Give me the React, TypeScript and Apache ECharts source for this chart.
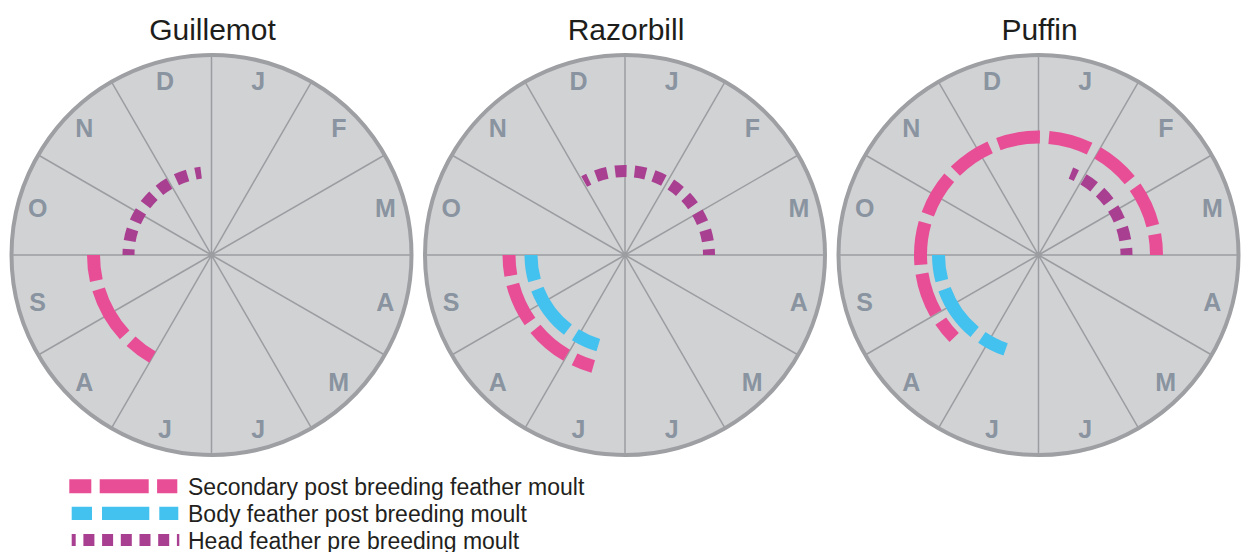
import React, { useEffect, useRef } from 'react';
import * as echarts from 'echarts';

// ---- data -------------------------------------------------------------
const SPECIES = ['Guillemot', 'Razorbill', 'Puffin'];
const MONTHS = ['J', 'F', 'M', 'A', 'M', 'J', 'J', 'A', 'S', 'O', 'N', 'D'];
// moult periods: [ring radius (0-100), start month, end month]; 0 = 1 Jan, clockwise
const SECONDARY_MOULT: (number[] | null)[] = [[59, 7.0, 9.0], [58, 6.53, 9.0], [59, 7.52, 3.0]];
const BODY_MOULT: (number[] | null)[] = [null, [47, 6.55, 9.0], [50, 6.64, 9.0]];
const HEAD_MOULT: (number[] | null)[] = [[41.5, 9.0, 11.76], [42, 11.03, 3.0], [44, 0.72, 3.0]];
const LEGEND_LABELS = [
  'Secondary post breeding feather moult',
  'Body feather post breeding moult',
  'Head feather pre breeding moult',
];
const LABEL_RING = [90];

// ---- styles -----------------------------------------------------------
const PINK = '#e84e96';
const BLUE = '#43c1ef';
const PURPLE = '#a83f91';
const CENTERS_X = [211.5, 625, 1038.5];
const CENTER_Y = 255;
const RADIUS = 200;
const FONT = '"Liberation Sans", Arial, Helvetica, sans-serif';

function makeArc(color: string, width: number, dash: number, gap: number) {
  return (params: any, api: any) => {
    const rv = api.value(0);
    const s = api.value(1);
    const e = api.value(2);
    const p0 = api.coord([rv, s]);
    const p1 = api.coord([rv, e]);
    const cs = params.coordSys;
    const r = p0[2];
    const a0 = -p0[3];
    let sweep = -p1[3] - a0;
    while (sweep <= 1e-6) sweep += Math.PI * 2;
    while (sweep > Math.PI * 2 + 1e-6) sweep -= Math.PI * 2;
    const L = r * sweep;
    const n = Math.max(1, Math.round(L / (dash + gap)));
    const d = L / n - gap;
    return {
      type: 'arc',
      shape: { cx: cs.cx, cy: cs.cy, r, startAngle: a0, endAngle: a0 + sweep, clockwise: true },
      style: {
        fill: 'none',
        stroke: color,
        lineWidth: width,
        lineDash: [d, gap],
        lineDashOffset: d / 2,
        lineCap: 'butt',
      },
    };
  };
}

export default function App() {
  const ref = useRef<HTMLDivElement>(null);

  useEffect(() => {
    if (!ref.current) return;
    const chart = echarts.init(ref.current, undefined, { renderer: 'svg' });

    const polar = CENTERS_X.map((x) => ({ center: [x, CENTER_Y], radius: RADIUS }));
    const angleAxis = CENTERS_X.map((_, i) => ({
      polarIndex: i,
      type: 'value',
      min: 0,
      max: 12,
      interval: 1,
      startAngle: 90,
      clockwise: true,
      z: 2,
      axisLine: { show: true, lineStyle: { color: '#9e9fa3', width: 4 } },
      axisTick: { show: false },
      axisLabel: { show: false },
      splitLine: { show: true, lineStyle: { color: '#9c9da1', width: 1.5 } },
      splitArea: { show: false },
    }));
    const radiusAxis = CENTERS_X.map((_, i) => ({
      polarIndex: i,
      type: 'value',
      min: 0,
      max: 100,
      interval: 100,
      z: 1,
      axisLine: { show: false },
      axisTick: { show: false },
      axisLabel: { show: false },
      splitLine: { show: false },
      splitArea: { show: true, areaStyle: { color: ['#d1d2d4'] } },
    }));

    const series: any[] = [];
    SPECIES.forEach((_, i) => {
      series.push({
        type: 'scatter',
        coordinateSystem: 'polar',
        polarIndex: i,
        symbolSize: 0.1,
        itemStyle: { color: 'rgba(0,0,0,0)' },
        silent: true,
        data: MONTHS.map((_, k) => [LABEL_RING[0], k + 0.5]),
        label: {
          show: true,
          position: 'inside',
          formatter: (p: any) => MONTHS[p.dataIndex],
          fontFamily: FONT,
          fontWeight: 'bold',
          fontSize: 25,
          color: '#758392',
        },
        z: 3,
      });
      const tracks: [(number[] | null), string, number, number, number][] = [
        [SECONDARY_MOULT[i], PINK, 13, 44, 9],
        [BODY_MOULT[i], BLUE, 13, 44, 9],
        [HEAD_MOULT[i], PURPLE, 12, 12, 8],
      ];
      tracks.forEach(([d, color, w, dash, gap]) => {
        if (!d) return;
        series.push({
          type: 'custom',
          coordinateSystem: 'polar',
          polarIndex: i,
          silent: true,
          data: [d],
          renderItem: makeArc(color, w, dash, gap),
          z: 4,
        });
      });
    });

    const graphic: any[] = [];
    SPECIES.forEach((name, i) => {
      graphic.push({
        type: 'text',
        x: CENTERS_X[i] + 1,
        y: 29,
        style: {
          text: name,
          fontFamily: FONT,
          fontSize: 30,
          fill: '#1d1d1b',
          align: 'center',
          verticalAlign: 'middle',
        },
      });
    });
    const legendRows = [
      { y: 486.3, x1: 69.3, x2: 177.3, color: PINK, w: 14, dash: [49, 8.4], off: 27.3 },
      { y: 513.3, x1: 71.7, x2: 178.3, color: BLUE, w: 13.3, dash: [47.3, 10], off: 27.3 },
      { y: 540, x1: 71.7, x2: 179.3, color: PURPLE, w: 12, dash: [11, 7.7], off: 6.7 },
    ];
    legendRows.forEach((r, k) => {
      graphic.push({
        type: 'line',
        shape: { x1: r.x1, y1: r.y, x2: r.x2, y2: r.y },
        style: { stroke: r.color, lineWidth: r.w, lineDash: r.dash, lineDashOffset: r.off, lineCap: 'butt' },
      });
      graphic.push({
        type: 'text',
        x: 188,
        y: r.y + 0.5,
        style: {
          text: LEGEND_LABELS[k],
          fontFamily: FONT,
          fontSize: 23,
          fill: '#231f20',
          align: 'left',
          verticalAlign: 'middle',
        },
      });
    });

    chart.setOption({
      animation: false,
      backgroundColor: '#ffffff',
      polar,
      angleAxis,
      radiusAxis,
      series,
      graphic,
    });
    return () => chart.dispose();
  }, []);

  return (
    <div
      ref={ref}
      style={{ position: 'fixed', left: 0, top: 0, width: 1241, height: 552, background: '#fff' }}
    />
  );
}
